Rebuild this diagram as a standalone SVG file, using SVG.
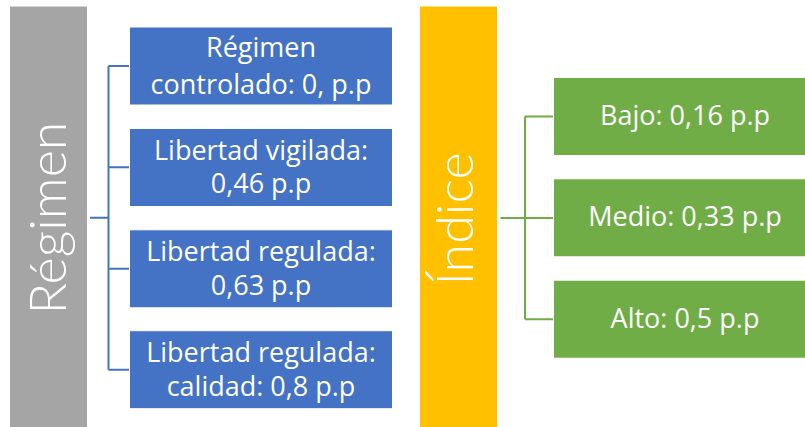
<svg xmlns="http://www.w3.org/2000/svg" width="805" height="427" viewBox="0 0 805 427">
<style>
.bg{fill:#ffffff}
.blue{fill:#4472C4;stroke:#ffffff;stroke-width:1}
.green{fill:#70AD47;stroke:#ffffff;stroke-width:1}
.gray{fill:#A5A5A5;stroke:#ffffff;stroke-width:1}
.yellow{fill:#FFC000;stroke:#ffffff;stroke-width:1}
.t{font-family:"Open Sans","Liberation Sans",sans-serif;font-size:27px;fill:#ffffff;text-anchor:middle}
.big{font-family:Lato,"Liberation Sans",sans-serif;font-size:52px;font-weight:300;fill:#ffffff;text-anchor:middle}
.cb{fill:none;stroke:#4472C4;stroke-width:2}
.cg{fill:none;stroke:#70AD47;stroke-width:2}
</style>
<rect class="bg" x="0" y="0" width="805" height="427"/>
<g id="connectors">
  <path class="cb" d="M90 217.8H108.5M108.5 66V369.7M108.5 66H129.5M108.5 167.3H129.5M108.5 268.7H129.5M108.5 369.7H129.5"/>
  <path class="cg" d="M500.5 217.9H553.5M525 116.6V319.2M525 116.6H553.5M525 319.2H553.5"/>
</g>
<g id="regimen">
  <rect class="gray" x="9.5" y="6" width="78" height="425"/>
  <text class="big" transform="translate(66 218) rotate(-90)">Régimen</text>
</g>
<g id="indice">
  <rect class="yellow" x="419.5" y="6" width="78" height="425"/>
  <text class="big" transform="translate(473 219) rotate(-90)">Índice</text>
</g>
<g id="r1">
  <rect class="blue" x="129.5" y="27" width="263" height="78"/>
  <text class="t" x="261" y="57.3">Régimen</text>
  <text class="t" x="261" y="93.7">controlado: 0, p.p</text>
</g>
<g id="r2">
  <rect class="blue" x="129.5" y="128.5" width="263" height="78"/>
  <text class="t" x="261" y="160">Libertad vigilada:</text>
  <text class="t" x="261" y="193.3">0,46 p.p</text>
</g>
<g id="r3">
  <rect class="blue" x="129.5" y="229.8" width="263" height="78"/>
  <text class="t" x="261" y="261.3">Libertad regulada:</text>
  <text class="t" x="261" y="294.6">0,63 p.p</text>
</g>
<g id="r4">
  <rect class="blue" x="129.5" y="330.7" width="263" height="78"/>
  <text class="t" x="261" y="362.3">Libertad regulada:</text>
  <text class="t" x="261" y="395.7">calidad: 0,8 p.p</text>
</g>
<g id="i1">
  <rect class="green" x="553.5" y="77.5" width="263" height="78"/>
  <text class="t" x="685" y="125">Bajo: 0,16 p.p</text>
</g>
<g id="i2">
  <rect class="green" x="553.5" y="178.8" width="263" height="78"/>
  <text class="t" x="685" y="226.3">Medio: 0,33 p.p</text>
</g>
<g id="i3">
  <rect class="green" x="553.5" y="280.2" width="263" height="78"/>
  <text class="t" x="685" y="327.7">Alto: 0,5 p.p</text>
</g>
</svg>
